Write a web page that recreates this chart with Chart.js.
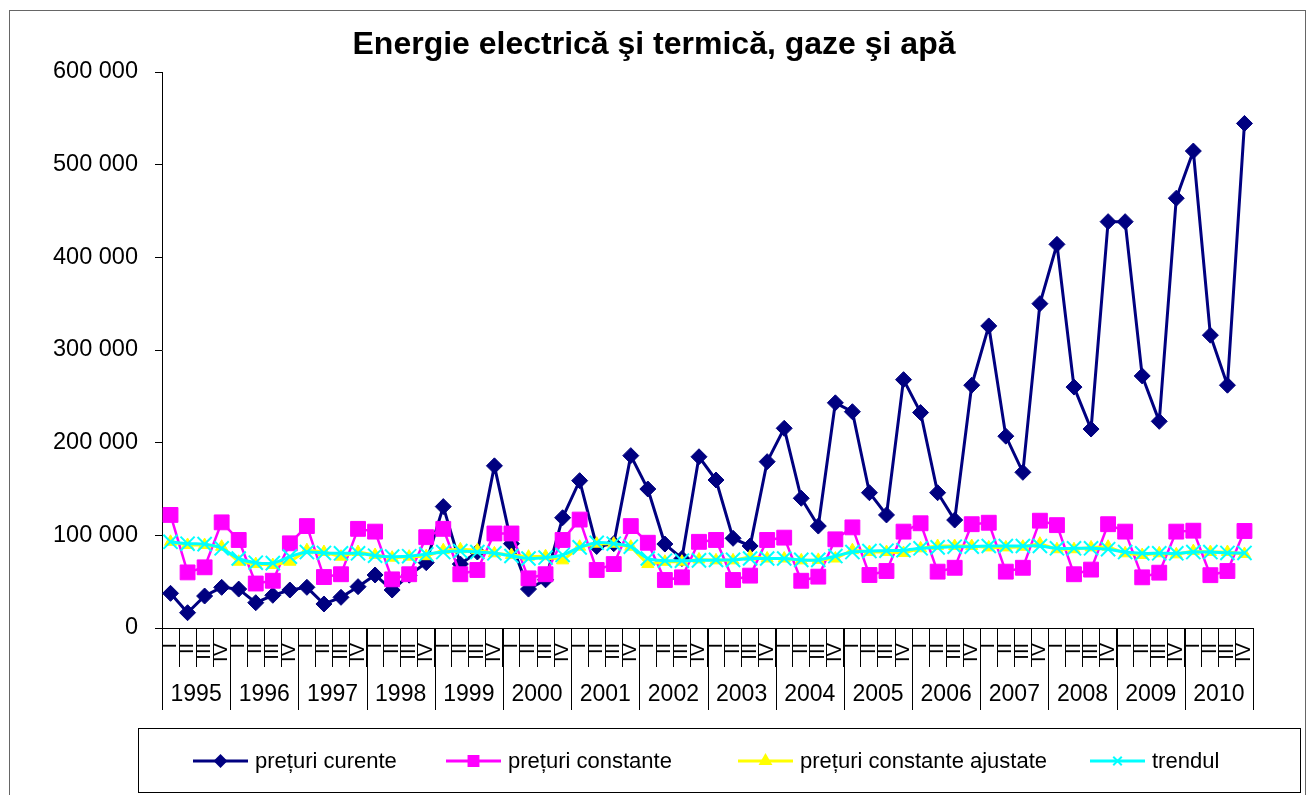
<!DOCTYPE html>
<html>
<head>
<meta charset="utf-8">
<script src="https://cdn.jsdelivr.net/npm/chart.js@4/dist/chart.umd.min.js"></script>
<style>
body{margin:0;background:#fff;}
#wrap{width:1312px;height:795px;position:relative;}
</style>
</head>
<body>
<div id="wrap"><canvas id="c"></canvas></div>
<script>
// date trimestriale 1995-2010
var years = ["1995","1996","1997","1998","1999","2000","2001","2002","2003","2004","2005","2006","2007","2008","2009","2010"];
var quarters = ["I","II","III","IV"];

var preturiCurente = [
	37400,16500,34500,43900, 42000,27300,35300,41000, 43900,25900,33100,44600, 57200,41000,57000,70500,
	131000,69000,82000,175000, 91000,42000,52000,119000, 159000,88000,91000,186000, 150000,90600,75000,184800,
	159700,96800,88500,179500, 215500,140000,110000,243000, 233400,146000,122000,268000, 232500,146000,116500,262000,
	326000,207000,168000,350000, 414000,260000,214700,438500, 438500,272000,223000,463800, 514700,316000,262000,544500
];
var preturiConstante = [
	122000,60000,65500,114000, 95000,48000,51000,91400, 110000,55000,58000,107000, 104000,52500,58000,98000,
	107000,58000,62600,102000, 102000,53600,58000,95000, 117000,62600,69000,110000, 92000,51800,54700,93000,
	95000,51800,56500,95000, 97500,51000,55400,95700, 108600,57200,61500,104000, 113000,60800,65000,112000,
	113600,60800,65000,115800, 111000,58000,63000,112000, 104000,54700,59700,104000, 105000,57000,61500,104700
];
var preturiAjustate = [
	93000,89600,89600,87700, 71500,69000,68000,71500, 84000,82000,77000,82000, 78800,75900,77000,77500,
	84000,85000,84000,80600, 78800,77000,77500,73000, 87700,91000,91000,87700, 69000,71500,71500,74000,
	73000,73000,77000,75000, 75000,73000,73500,75000, 84000,82000,82000,81000, 86000,88500,88500,88500,
	87000,87000,87700,91000, 85000,85000,87000,87700, 80600,78800,80600,79500, 83000,82000,82000,79900
];
var trendul = [
	93000,91000,90500,86000, 75000,70500,70000,77000, 82000,81000,80600,80600, 78000,77000,77500,79500,
	82000,83000,82000,80600, 77700,75000,76000,78800, 87000,92000,91000,87700, 75000,72600,72600,73000,
	73500,73500,75000,75000, 75000,73500,73500,77600, 82000,83000,83400,84000, 86000,87000,87700,87700,
	88500,88500,88500,88500, 86000,86000,86000,85000, 82000,80600,80600,80600, 82000,82000,81000,81000
];

var labels = [];
for (var y = 0; y < years.length; y++){
	for (var q = 0; q < quarters.length; q++){
		labels.push(quarters[q]);
	}
}

var FONT = "'Liberation Sans', Arial, sans-serif";
Chart.defaults.font.family = FONT;
Chart.defaults.color = "#000";

var legendItems = [
	{text:"prețuri curente", color:"#000080", style:"rectRot", r:5.5, x:193},
	{text:"prețuri constante", color:"#FF00FF", style:"rect", r:7, x:446},
	{text:"prețuri constante ajustate", color:"#FFFF00", style:"triangle", r:6, x:738},
	{text:"trendul", color:"#00FFFF", style:"crossRot", r:6, x:1090}
];

var decor = {
	id:"decor",
	afterDraw:function(chart){
		var ctx = chart.ctx;
		var xs = chart.scales.x;
		var area = chart.chartArea;
		ctx.save();
		// chenar exterior
		ctx.strokeStyle = "#666";
		ctx.lineWidth = 1;
		ctx.strokeRect(9.5, 10.5, 1296, 800);
		// titlu
		ctx.fillStyle = "#000";
		ctx.font = "bold 32px " + FONT;
		ctx.textAlign = "center";
		ctx.textBaseline = "middle";
		ctx.fillText("Energie electrică şi termică, gaze şi apă", 654, 45);
		// separatori ani + etichete ani
		var step = xs.getPixelForValue(1) - xs.getPixelForValue(0);
		ctx.strokeStyle = "#000";
		ctx.lineWidth = 1;
		ctx.font = "23px " + FONT;
		for (var k = 0; k <= years.length; k++){
			var px = Math.round(xs.getPixelForValue(k*4) - step/2) + 0.5;
			ctx.beginPath();
			ctx.moveTo(px, area.bottom);
			ctx.lineTo(px, 710);
			ctx.stroke();
			if (k < years.length){
				var cx = (xs.getPixelForValue(k*4) + xs.getPixelForValue(k*4+3))/2;
				ctx.fillText(years[k], cx, 695);
			}
		}
		// legenda
		ctx.strokeStyle = "#000";
		ctx.strokeRect(138.5, 728.5, 1162, 64);
		ctx.font = "22px " + FONT;
		ctx.textAlign = "left";
		legendItems.forEach(function(it){
			ctx.strokeStyle = it.color;
			ctx.fillStyle = it.color;
			ctx.lineWidth = 3;
			ctx.beginPath();
			ctx.moveTo(it.x, 761);
			ctx.lineTo(it.x + 55, 761);
			ctx.stroke();
			ctx.lineWidth = 2;
			Chart.helpers.drawPoint(ctx, {pointStyle:it.style, radius:it.r, borderWidth:2, rotation:0}, it.x + 27.5, 761);
			ctx.fillStyle = "#000";
			ctx.fillText(it.text, it.x + 62, 762);
		});
		ctx.restore();
	}
};

function fmt(v){
	return String(v).replace(/\B(?=(\d{3})+(?!\d))/g, " ");
}

new Chart(document.getElementById("c"), {
	type:"line",
	data:{
		labels:labels,
		datasets:[
			{label:"prețuri curente", data:preturiCurente, borderColor:"#000080", backgroundColor:"#000080",
				borderWidth:3, pointStyle:"rectRot", pointRadius:8, pointBorderWidth:1, tension:0, order:4},
			{label:"prețuri constante", data:preturiConstante, borderColor:"#FF00FF", backgroundColor:"#FF00FF",
				borderWidth:2.5, pointStyle:"rect", pointRadius:10.5, pointBorderWidth:1, tension:0, order:3},
			{label:"prețuri constante ajustate", data:preturiAjustate, borderColor:"#FFFF00", backgroundColor:"#FFFF00",
				borderWidth:3, pointStyle:"triangle", pointRadius:7, pointBorderWidth:1, tension:0, order:2},
			{label:"trendul", data:trendul, borderColor:"#00FFFF", backgroundColor:"#00FFFF",
				borderWidth:3, pointStyle:"crossRot", pointRadius:10, pointBorderWidth:2, tension:0.3, order:1}
		]
	},
	options:{
		responsive:true,
		maintainAspectRatio:false,
		animation:false,
		layout:{padding:{left:0, top:72, right:59, bottom:127}},
		plugins:{legend:{display:false}, tooltip:{enabled:false}, title:{display:false}},
		scales:{
			x:{
				offset:true,
				grid:{drawOnChartArea:false, drawTicks:true, tickLength:39, color:"#000", offset:true},
				border:{display:true, color:"#000", width:1},
				ticks:{autoSkip:false, maxRotation:90, minRotation:90, padding:-24, font:{size:20}, color:"#000"},
				afterFit:function(s){ s.height = 40; }
			},
			y:{
				min:0, max:600000,
				grid:{drawOnChartArea:false, tickLength:7, color:"#000"},
				border:{display:true, color:"#000", width:1},
				ticks:{stepSize:100000, padding:17, font:{size:23.5}, color:"#000", callback:function(v){ return fmt(v); }},
				afterFit:function(s){ s.width = 162; }
			}
		}
	},
	plugins:[decor]
});
</script>
</body>
</html>
